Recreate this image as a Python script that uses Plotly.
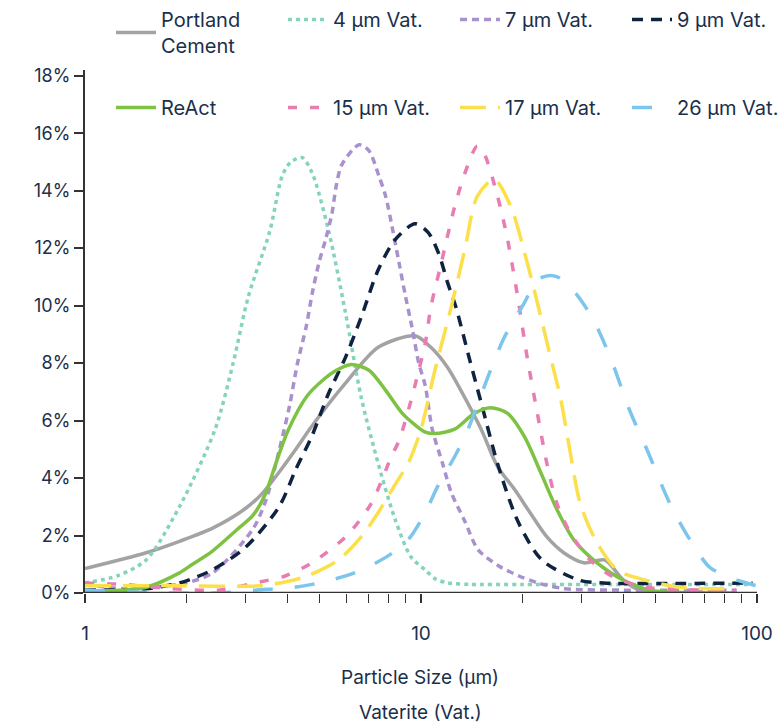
import plotly.graph_objects as go

# ---------------- data ----------------
pc_x = [1, 1.52, 1.91, 2.39, 3.01, 3.36, 3.78, 4.24, 4.73, 5.96, 7.46, 9.6, 10.7, 12.0, 13.5,
        15.1, 16.9, 19.0, 21.1, 23.7, 26.6, 30.5, 35.2, 40.0, 44.8, 55, 70]
pc_y = [0.85, 1.4, 1.8, 2.25, 2.95, 3.45, 4.2, 5.0, 5.8, 7.3, 8.55, 8.95, 8.55, 7.85, 6.8,
        5.7, 4.4, 3.6, 2.8, 1.95, 1.4, 1.05, 1.15, 0.45, 0.1, 0.02, 0.0]

react_x = [1, 1.52, 1.91, 2.09, 2.39, 2.83, 3.16, 3.43, 3.70, 4.03, 4.57, 5.12, 5.6, 6.2,
           7.0, 7.85, 8.8, 9.6, 10.3, 11.0, 12.6, 14.4, 16.1, 18.1, 20.3, 22.7, 25.4, 28.5,
           33.4, 40, 47.9, 60, 87]
react_y = [0.05, 0.2, 0.7, 1.0, 1.45, 2.2, 2.7, 3.4, 4.52, 5.68, 6.84, 7.42, 7.75, 7.95,
           7.75, 7.05, 6.25, 5.85, 5.6, 5.55, 5.7, 6.25, 6.45, 6.25, 5.45, 4.2, 2.9, 1.85,
           1.05, 0.45, 0.1, 0.02, 0.0]

v4_x = [1, 1.25, 1.52, 1.91, 2.44, 2.76, 3.06, 3.55, 3.86, 4.1, 4.43, 4.75, 5.31, 5.96,
        6.64, 7.46, 8.38, 9.34, 10.3, 11.0, 12.0, 14, 20, 40, 60, 97]
v4_y = [0.35, 0.6, 1.15, 3.0, 5.7, 8.0, 10.3, 12.6, 14.5, 15.0, 15.15, 14.6, 12.6, 9.75,
        6.8, 4.5, 2.55, 1.25, 0.8, 0.5, 0.35, 0.3, 0.3, 0.3, 0.3, 0.3]

v7_x = [1, 1.3, 1.6, 2.0, 2.4, 3.15, 3.46, 3.79, 4.06, 4.29, 4.55, 4.75, 4.97, 5.2, 5.43,
        5.6, 5.81, 6.54, 6.99, 7.5, 7.85, 8.2, 8.6, 9.0, 9.4, 9.85, 10.3, 10.8, 11.6, 12.3,
        13.5, 14.8, 17.0, 19.5, 22.3, 26.8, 40, 60, 87]
v7_y = [0.3, 0.15, 0.2, 0.35, 0.7, 2.2, 3.25, 5.0, 6.5, 8.0, 9.25, 10.45, 11.5, 12.3, 13.2,
        14.2, 14.9, 15.6, 15.4, 14.5, 13.8, 12.75, 11.5, 10.3, 9.25, 8.0, 7.2, 5.7, 4.5, 3.5,
        2.5, 1.5, 0.95, 0.6, 0.35, 0.15, 0.1, 0.1, 0.1]

v9_x = [1, 1.52, 1.91, 2.39, 3.01, 3.78, 4.24, 4.73, 5.31, 5.96, 6.64, 7.46, 8.38, 9.6,
        10.5, 11.3, 12.0, 12.7, 13.9, 15.2, 17.0, 19.5, 22.9, 29.5, 35, 97]
v9_y = [0.1, 0.15, 0.35, 0.8, 1.6, 3.0, 4.3, 5.45, 6.95, 8.2, 9.6, 11.25, 12.3, 12.85,
        12.55, 11.8, 10.8, 9.95, 8.2, 6.5, 4.4, 2.45, 1.15, 0.45, 0.35, 0.35]

v15_x = [1, 1.3, 1.8, 2.5, 3.2, 3.96, 4.73, 5.96, 7.1, 8.16, 8.6, 9.34, 9.8, 10.3, 10.7,
         11.5, 12.6, 13.5, 14.7, 15.4, 16.9, 18.1, 19.4, 20.7, 22.2, 23.7, 25.4, 27.8, 31.9,
         37.5, 47, 86.7]
v15_y = [0.35, 0.3, 0.15, 0.1, 0.35, 0.6, 1.05, 1.95, 3.1, 4.75, 5.3, 6.7, 7.65, 8.7, 9.95,
         11.5, 13.45, 14.6, 15.55, 15.3, 13.8, 12.3, 10.3, 8.2, 6.25, 4.5, 3.1, 2.1, 1.15,
         0.55, 0.2, 0.1]

v17_x = [1, 2, 3.3, 4.0, 4.6, 5.68, 6.64, 7.46, 8.4, 9.15, 10.0, 11.0, 12.3, 13.5, 14.7,
         16.5, 18.5, 20.7, 22.2, 24.3, 26.0, 27.8, 29.8, 33.4, 38.4, 44.8, 58.7, 87]
v17_y = [0.25, 0.25, 0.25, 0.4, 0.6, 1.15, 1.95, 2.8, 3.8, 4.5, 5.7, 7.75, 9.95, 11.95, 13.8,
         14.4, 13.45, 11.5, 10.1, 8.2, 6.8, 4.9, 3.1, 1.75, 0.8, 0.5, 0.2, 0.15]

v26_x = [1, 1.7, 2.5, 3.2, 4.2, 5.2, 6.5, 8.0, 9.15, 10.3, 11.2, 12.6, 13.8, 16.1, 17.7,
         20.3, 22.2, 24.3, 26.0, 29, 32.6, 36.6, 41.8, 47.0, 55.1, 63.2, 72.2, 82.7, 90,
         100, 112]
v26_y = [0.1, 0.0, 0.0, 0.1, 0.2, 0.4, 0.75, 1.3, 1.85, 2.8, 3.7, 4.75, 5.7, 7.75, 8.9,
         10.1, 10.9, 11.05, 10.95, 10.4, 9.5, 8.2, 6.35, 5.0, 3.1, 1.85, 0.9, 0.55, 0.4,
         0.25, 0.12]

y_ticks = [0, 2, 4, 6, 8, 10, 12, 14, 16, 18]
x_ticks = [1, 10, 100]
x_minor = [2, 3, 4, 5, 6, 7, 8, 9, 20, 30, 40, 50, 60, 70, 80, 90]

# ---------------- styling ----------------
NAVY = "#1b2f4b"
FONT = "Inter"
LW = 3.5

series = [
    ("Portland<br>Cement", pc_x, pc_y, "#a3a3a3", "solid", "legend"),
    ("4 µm Vat.", v4_x, v4_y, "#84d3bd", "4px,4px", "legend"),
    ("7 µm Vat.", v7_x, v7_y, "#a991cd", "7px,5px", "legend"),
    ("9 µm Vat.", v9_x, v9_y, "#0e2340", "11px,8px", "legend"),
    ("ReAct", react_x, react_y, "#7dc242", "solid", "legend2"),
    ("15 µm Vat.", v15_x, v15_y, "#e97db3", "9px,13px", "legend2"),
    ("17 µm Vat.", v17_x, v17_y, "#fbe04b", "26px,12px", "legend2"),
    ("26 µm Vat.", v26_x, v26_y, "#7cc5ec", "20px,22px", "legend2"),
]

fig = go.Figure()
for name, xs, ys, col, dash, lg in series:
    fig.add_trace(go.Scatter(
        x=xs, y=ys, name=name, mode="lines", legend=lg,
        line=dict(color=col, width=LW, dash=dash, shape="spline", smoothing=0.8),
    ))

W, H = 778, 728
ML, MT, MB = 85, 70, 135
PLOT_H = H - MT - MB
PLOT_W = W - ML
legend_common = dict(orientation="h", xref="paper", yref="paper", xanchor="left",
                     yanchor="top", entrywidth=117, entrywidthmode="pixels", itemwidth=40,
                     font=dict(size=20, color=NAVY), bgcolor="rgba(0,0,0,0)",
                     traceorder="normal", valign="middle")

fig.update_layout(
    width=W, height=H,
    margin=dict(l=ML, r=0, t=MT, b=MB, autoexpand=False),
    paper_bgcolor="white", plot_bgcolor="white",
    font=dict(family=FONT, color=NAVY, size=18),
    showlegend=True,
    legend=dict(legend_common, x=(111 - ML) / PLOT_W, y=(H - MB) / PLOT_H),
    legend2=dict(legend_common, x=(111 - ML) / PLOT_W, y=(H - MB - 88) / PLOT_H),
    xaxis=dict(type="log", range=[0, 2.0625], showgrid=False, zeroline=False,
               showline=False, ticks="outside", ticklen=9, tickwidth=1.5,
               tickcolor="#333333", tickvals=x_ticks, ticktext=[str(v) for v in x_ticks],
               tickfont=dict(size=19, color=NAVY), ticklabelstandoff=14,
               minor=dict(ticks="outside", ticklen=9, tickwidth=1.2,
                          tickcolor="#333333", tickvals=x_minor)),
    yaxis=dict(range=[0, 18.2], showgrid=False, zeroline=False, showline=True,
               linecolor="#333333", linewidth=2, ticks="outside", ticklen=9,
               tickwidth=1.5, tickcolor="#333333", tickvals=y_ticks,
               ticktext=[f"{v}%" for v in y_ticks], tickfont=dict(size=18, color=NAVY)),
    shapes=[dict(type="line", xref="x", yref="y", x0=1, x1=100, y0=0, y1=0,
                 line=dict(color="#333333", width=2.5), layer="above")],
    annotations=[
        dict(text="Particle Size (µm)", xref="paper", yref="paper", x=(420 - ML) / PLOT_W,
             y=-(677 - 593) / PLOT_H, xanchor="center", yanchor="middle", showarrow=False,
             font=dict(size=19, color=NAVY)),
        dict(text="Vaterite (Vat.)", xref="paper", yref="paper", x=(420 - ML) / PLOT_W,
             y=-(712 - 593) / PLOT_H, xanchor="center", yanchor="middle", showarrow=False,
             font=dict(size=19, color=NAVY)),
    ],
)

fig.write_html(
    "out.html",
    config={"displayModeBar": False},
    post_script="document.body.style.margin='0';document.body.style.overflow='hidden';",
)
